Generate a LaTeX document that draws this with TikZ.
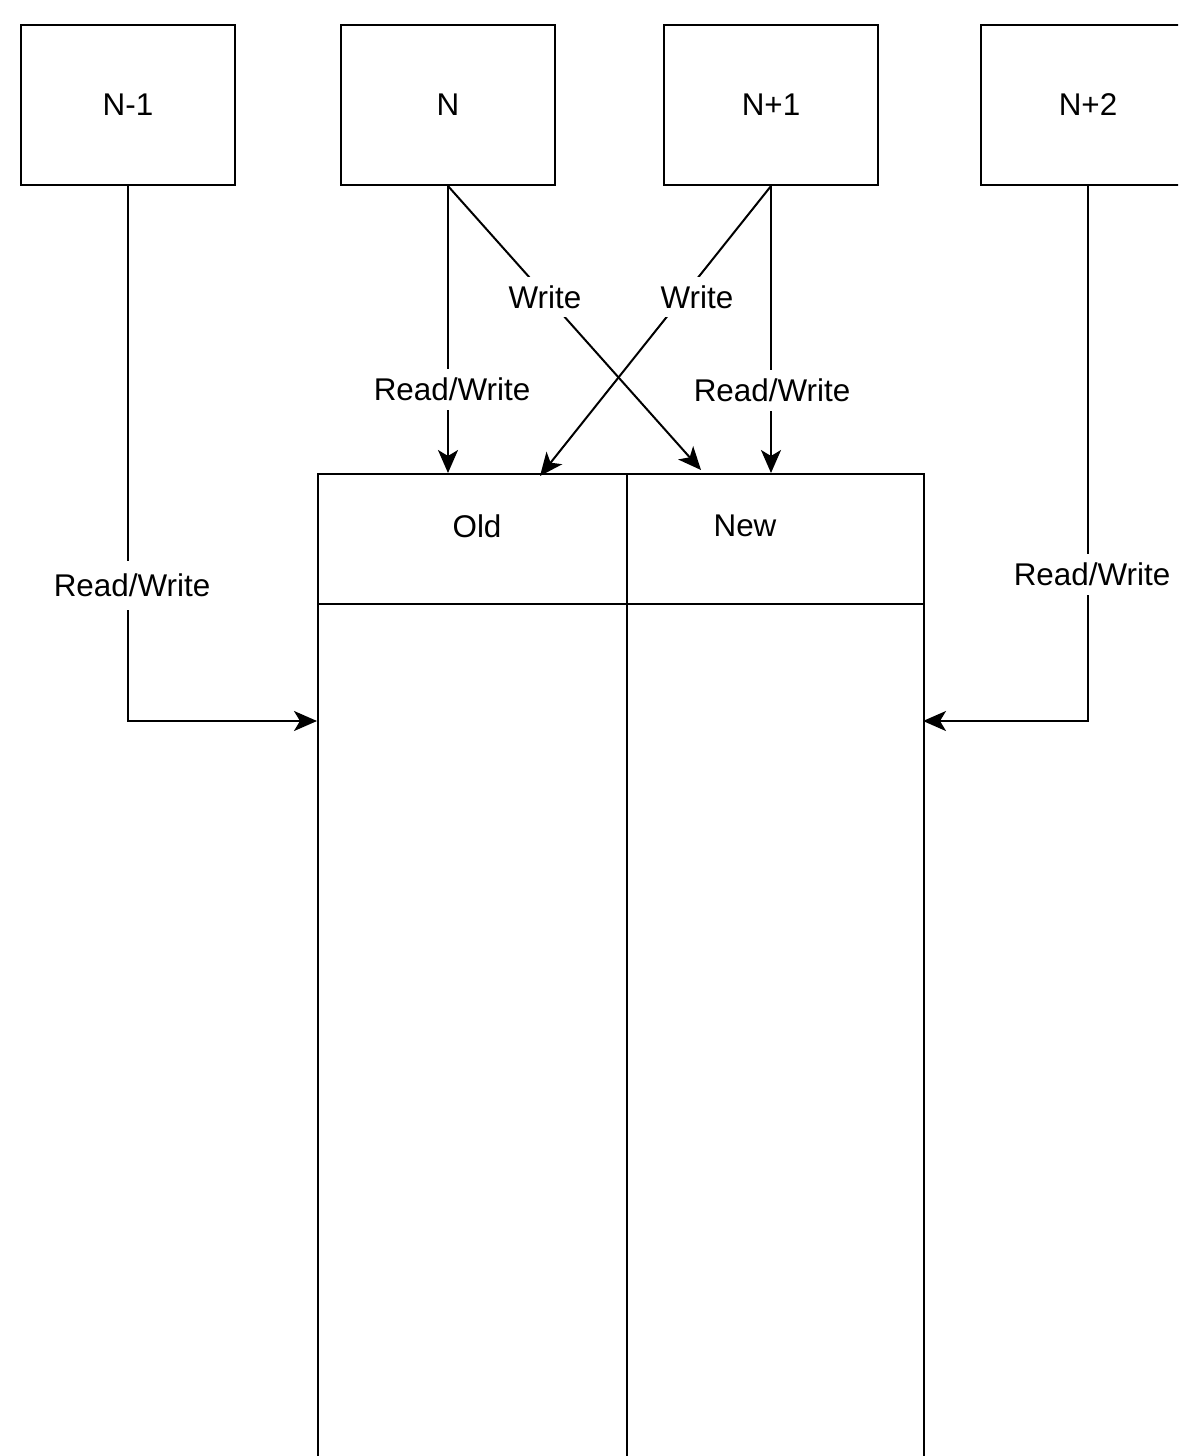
\documentclass[tikz,border=0pt]{standalone}
\usepackage{fontspec}
\setmainfont{Liberation Sans}
\usetikzlibrary{arrows.meta}
\begin{document}
\begin{tikzpicture}[x=1pt,y=-1pt,
  every node/.style={font=\fontsize{31.4}{36}\selectfont},
  box/.style={draw,line width=2pt,minimum width=214pt,minimum height=160pt,inner sep=0pt},
  conn/.style={line width=2pt,-{Stealth[length=23pt,width=20pt,inset=6pt]}},
  lbl/.style={fill=white,inner xsep=1pt,inner ysep=0pt,minimum height=41pt},
  txt/.style={inner sep=0pt},
  tline/.style={line width=2pt}]
\clip (0,0) rectangle (1178,1456);
\fill[white] (0,0) rectangle (1178,1456);
% process boxes
\node[box] (n1) at (128,105) {N-1};
\node[box] (n)  at (448,105) {N};
\node[box] (np1) at (771,105) {N+1};
\node[box] (np2) at (1088,105) {N+2};
% table
\node[draw,line width=2pt,minimum width=606pt,minimum height=1020pt,inner sep=0pt,anchor=north west] (tbl) at (317,473) {};
\draw[tline] (627,473) -- (627,1500);
\draw[tline] (317,604) -- (923,604);
\node[txt] (old) at (477,526) {Old};
\node[txt] (new) at (745,526) {New};
% connector end points
\coordinate (tL) at (317,721);
\coordinate (tR) at (923,721);
\coordinate (oA) at (448,473);
\coordinate (oB) at (540,476);
\coordinate (nA) at (701,470);
\coordinate (nB) at (771,473);
% connectors
\draw[conn] (n1.south) |- (tL);
\draw[conn] (np2.south) |- (tR);
\draw[conn] (n.south) -- (oA);
\draw[conn] (n.south) -- (nA);
\draw[conn] (np1.south) -- (nB);
\draw[conn] (np1.south) -- (oB);
% labels
\node[lbl,minimum height=49pt] (l1) at (132,585) {Read/Write};
\node[lbl] (l2) at (1092,574) {Read/Write};
\node[lbl] (l3) at (452,389) {Read/Write};
\node[lbl] (l4) at (772,390) {Read/Write};
\node[lbl,minimum height=40pt] (l5) at (545,297) {Write};
\node[lbl,minimum height=40pt] (l6) at (697,297) {Write};
\end{tikzpicture}
\end{document}
